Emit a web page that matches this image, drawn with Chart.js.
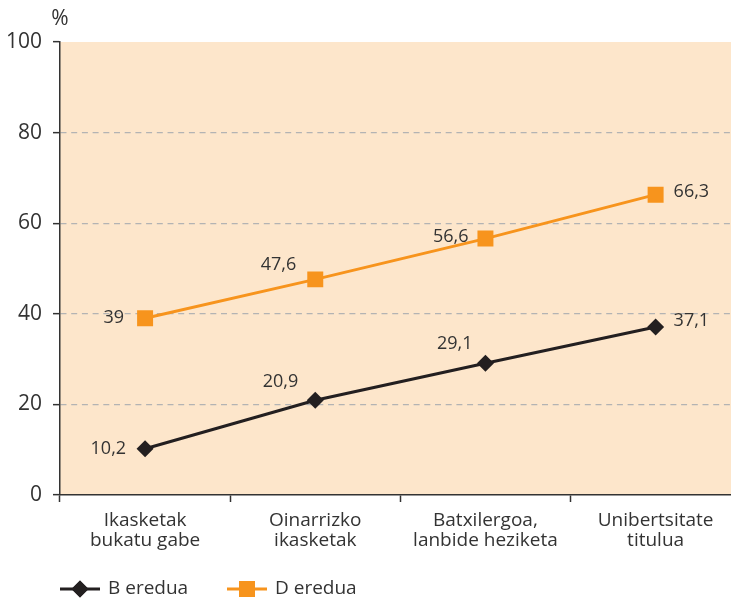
<!DOCTYPE html>
<html>
<head>
<meta charset="utf-8">
<script src="https://cdn.jsdelivr.net/npm/chart.js@4.4.1/dist/chart.umd.min.js"></script>
<style>
  html, body { margin: 0; padding: 0; background: #fff; overflow: hidden; }
  #wrap { width: 752px; height: 598px; }
</style>
</head>
<body>
<div id="wrap"><canvas id="canvas" width="752" height="598"></canvas></div>
<script>
const categories = [
  ["Ikasketak", "bukatu gabe"],
  ["Oinarrizko", "ikasketak"],
  ["Batxilergoa,", "lanbide heziketa"],
  ["Unibertsitate", "titulua"]
];
const bEredua = [10.2, 20.9, 29.1, 37.1];
const dEredua = [39, 47.6, 56.6, 66.3];
const yTicks = [0, 20, 40, 60, 80, 100];

const FONT = "'Open Sans', 'Noto Sans', sans-serif";
const TEXT = "#333333";
const ORANGE = "#f7941d";
const BLACK = "#231f20";

// label offsets next to each point: [dx, dy, align]
const bOffsets = [[-19, 0, "right"], [-17, -18, "right"], [-13, -19, "right"], [18, -6, "left"]];
const dOffsets = [[-21, 0, "right"], [-19, -14, "right"], [-17, -2, "right"], [18, -3, "left"]];

const ctx = document.getElementById("canvas").getContext("2d");

const extras = {
  id: "extras",
  beforeDraw(chart) {
    const a = chart.chartArea, c = chart.ctx;
    c.save();
    c.fillStyle = "#fde6cb";
    c.fillRect(a.left, a.top, a.right - a.left, a.bottom - a.top);
    c.restore();
  },
  afterDatasetsDraw(chart) {
    const c = chart.ctx;
    c.save();
    c.font = "18px " + FONT;
    c.fillStyle = TEXT;
    c.textBaseline = "middle";
    [bOffsets, dOffsets].forEach((offs, di) => {
      const meta = chart.getDatasetMeta(di);
      const vals = chart.data.datasets[di].data;
      meta.data.forEach((pt, i) => {
        const o = offs[i];
        c.textAlign = o[2];
        c.fillText(String(vals[i]).replace(".", ","), pt.x + o[0], pt.y + o[1]);
      });
    });

    // unit label
    c.font = "21px " + FONT;
    c.textAlign = "center";
    c.fillText("%", 60, 19);

    // legend: line with marker
    const ly = 589;
    const items = [
      { x: 60, color: BLACK, style: "rectRot", r: 8.5, text: "B eredua" },
      { x: 227, color: ORANGE, style: "rect", r: 11.3, text: "D eredua" }
    ];
    items.forEach(it => {
      c.strokeStyle = it.color;
      c.lineWidth = 3;
      c.beginPath();
      c.moveTo(it.x, ly);
      c.lineTo(it.x + 40, ly);
      c.stroke();
      c.fillStyle = it.color;
      Chart.helpers.drawPoint(c, { pointStyle: it.style, radius: it.r, borderWidth: 0 }, it.x + 20, ly);
      c.fill();
      c.fillStyle = TEXT;
      c.font = "19px " + FONT;
      c.textAlign = "left";
      c.fillText(it.text, it.x + 48, ly);
    });
    c.restore();
  }
};

new Chart(ctx, {
  type: "line",
  data: {
    labels: categories,
    datasets: [
      {
        label: "B eredua",
        data: bEredua,
        borderColor: BLACK,
        backgroundColor: BLACK,
        borderWidth: 3,
        pointStyle: "rectRot",
        pointRadius: 8.5,
        pointBorderWidth: 0,
        pointBackgroundColor: BLACK,
        tension: 0
      },
      {
        label: "D eredua",
        data: dEredua,
        borderColor: ORANGE,
        backgroundColor: ORANGE,
        borderWidth: 3,
        pointStyle: "rect",
        pointRadius: 11.3,
        pointBorderWidth: 0,
        pointBackgroundColor: ORANGE,
        tension: 0
      }
    ]
  },
  options: {
    responsive: false,
    animation: false,
    devicePixelRatio: 1,
    layout: { padding: { top: 42, left: 0, right: 0, bottom: 0 } },
    plugins: {
      legend: { display: false },
      tooltip: { enabled: false }
    },
    scales: {
      x: {
        offset: true,
        grid: {
          offset: true,
          drawOnChartArea: false,
          tickLength: 7,
          tickColor: TEXT,
          tickWidth: 1.5
        },
        border: { color: TEXT, width: 1.5 },
        ticks: {
          color: TEXT,
          font: { family: FONT, size: 19, lineHeight: 1.05 },
          padding: 9,
          maxRotation: 0,
          autoSkip: false
        },
        afterFit(scale) { scale.height = 103; }
      },
      y: {
        min: 0,
        max: 100,
        afterBuildTicks(scale) { scale.ticks = yTicks.map(v => ({ value: v })); },
        grid: {
          color: c => (c.tick && (c.tick.value === 0 || c.tick.value === 100)) ? "rgba(0,0,0,0)" : "#b3b3b3",
          lineWidth: 1.3,
          tickLength: 7,
          tickColor: TEXT,
          tickWidth: 1.5,
          tickBorderDash: [0, 0]
        },
        border: { color: TEXT, width: 1.5, dash: [6, 4.7] },
        ticks: {
          color: TEXT,
          font: { family: FONT, size: 21 },
          padding: 11
        },
        afterFit(scale) { scale.width = 60; }
      }
    }
  },
  plugins: [extras]
});
</script>
</body>
</html>
